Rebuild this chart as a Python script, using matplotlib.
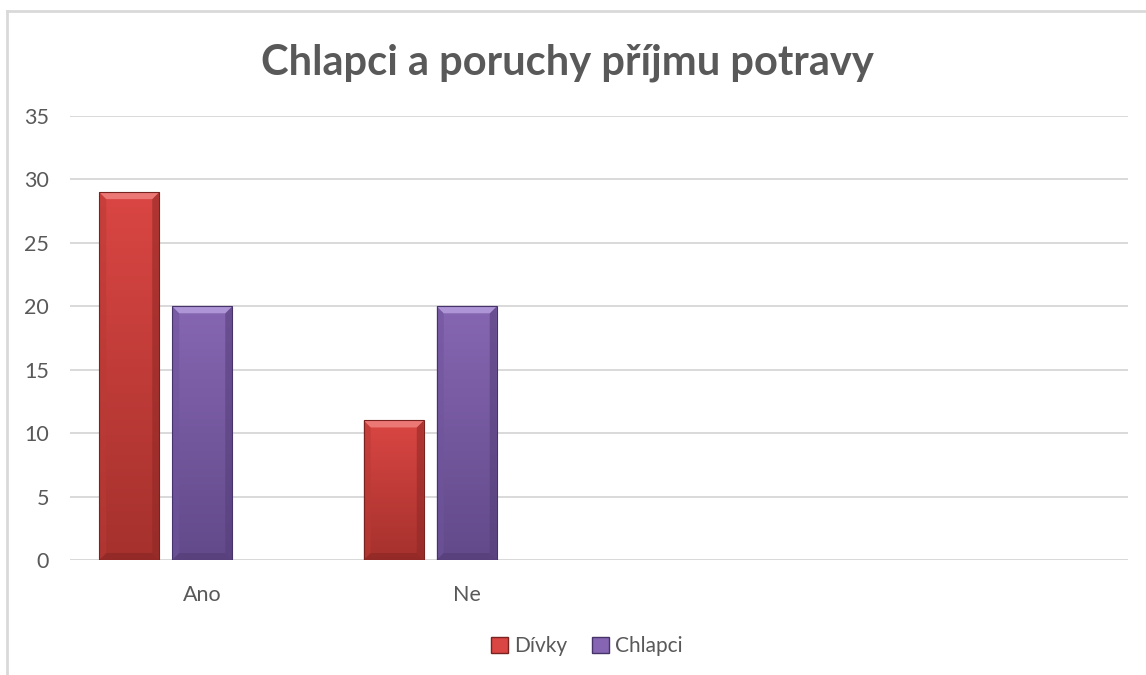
import numpy as np
import matplotlib
matplotlib.use("Agg")
import matplotlib.pyplot as plt
from matplotlib.patches import Polygon, Patch, Rectangle
from matplotlib.colors import LinearSegmentedColormap
from matplotlib.lines import Line2D

# ---- data ----
categories = ["Ano", "Ne", "", ""]
series_names = ["Dívky", "Chlapci"]
divky = [29, 11]
chlapci = [20, 20]
y_ticks = [0, 5, 10, 15, 20, 25, 30, 35]
title = "Chlapci a poruchy příjmu potravy"

# ---- style ----
FONT = ["Lato", "DejaVu Sans"]
plt.rcParams['font.family'] = FONT
TXT = "#595959"
GRID = "#D9D9D9"
styles = {
    "Dívky": dict(top="#DA4643", bot="#A5312D", bevel_top="#EE7E7A", side="#B93A36",
                  bottom="#8E2825", edge="#7A2220"),
    "Chlapci": dict(top="#8666B2", bot="#624A8A", bevel_top="#B39BDA", side="#6F549C",
                    bottom="#543E78", edge="#46336A"),
}

W, H = 1146, 675
fig = plt.figure(figsize=(W / 100, H / 100), dpi=100)
L, R, B, T = 70, 1128, 560, 116
ax = fig.add_axes([L / W, 1 - B / H, (R - L) / W, (B - T) / H])

xlim = (-0.5, len(categories) - 0.5)
ylim = (0, 35)
ax.set_xlim(*xlim)
ax.set_ylim(*ylim)

px_x = (xlim[1] - xlim[0]) / (R - L)
px_y = (ylim[1] - ylim[0]) / (B - T)

bar_w = 60 * px_x
offsets = {"Dívky": -73 * px_x, "Chlapci": 0.0}
values = {"Dívky": divky, "Chlapci": chlapci}

bev = 7


def bevel_bar(xc, h, st):
    x0, x1 = xc - bar_w / 2, xc + bar_w / 2
    bx, by = bev * px_x, bev * px_y
    cmap = LinearSegmentedColormap.from_list("g", [st["bot"], st["top"]])
    grad = np.linspace(0, 1, 256).reshape(-1, 1)
    ax.imshow(grad, extent=(x0, x1, 0, h), origin="lower", cmap=cmap,
              aspect="auto", zorder=2, interpolation="bicubic")
    # bevels
    ax.add_patch(Polygon([(x0, 0), (x0, h), (x0 + bx, h - by), (x0 + bx, by)],
                         closed=True, facecolor=st["side"], edgecolor="none",
                         alpha=0.55, zorder=3))
    ax.add_patch(Polygon([(x1, 0), (x1, h), (x1 - bx, h - by), (x1 - bx, by)],
                         closed=True, facecolor=st["bottom"], edgecolor="none",
                         alpha=0.55, zorder=3))
    ax.add_patch(Polygon([(x0, 0), (x1, 0), (x1 - bx, by), (x0 + bx, by)],
                         closed=True, facecolor=st["bottom"], edgecolor="none",
                         alpha=0.7, zorder=3))
    ax.add_patch(Polygon([(x0, h), (x1, h), (x1 - bx, h - by), (x0 + bx, h - by)],
                         closed=True, facecolor=st["bevel_top"], edgecolor="none",
                         alpha=0.9, zorder=3))
    ax.add_patch(Rectangle((x0, 0), bar_w, h, facecolor="none",
                           edgecolor=st["edge"], linewidth=0.8, zorder=4))


for name in series_names:
    for i, v in enumerate(values[name]):
        bevel_bar(i + offsets[name], v, styles[name])

# grid
ax.set_yticks(y_ticks)
ax.yaxis.grid(True, color=GRID, linewidth=1.4)
ax.set_axisbelow(True)
for s in ax.spines.values():
    s.set_visible(False)
ax.tick_params(axis="both", length=0, colors=TXT, labelsize=15.5)
ax.tick_params(axis="y", pad=15)
ax.tick_params(axis="x", pad=18)
ax.set_xticks(range(len(categories)))
ax.set_xticklabels(categories)
ax.axhline(0, color=GRID, linewidth=1.4, zorder=1)

# title
fig.text(567 / W, 1 - 63 / H, title, ha="center", va="center",
         fontsize=30, fontweight="bold", color=TXT)

# legend
handles = [Patch(facecolor=styles[n]["top"], edgecolor=styles[n]["edge"]) for n in series_names]
leg = fig.legend(handles, series_names, loc="center", bbox_to_anchor=(587 / W, 1 - 646 / H),
                 ncol=2, frameon=False, fontsize=15, handlelength=0.8, handleheight=0.8,
                 handletextpad=0.3, columnspacing=1.2)
for t in leg.get_texts():
    t.set_color(TXT)

# chart border (top and left)
fig.add_artist(Line2D([6.5 / W, 1.0], [1 - 10.5 / H, 1 - 10.5 / H], transform=fig.transFigure,
                      color=GRID, linewidth=2))
fig.add_artist(Line2D([6.5 / W, 6.5 / W], [0, 1 - 10.5 / H], transform=fig.transFigure,
                      color=GRID, linewidth=2))

fig.savefig("out.png", dpi=100)
